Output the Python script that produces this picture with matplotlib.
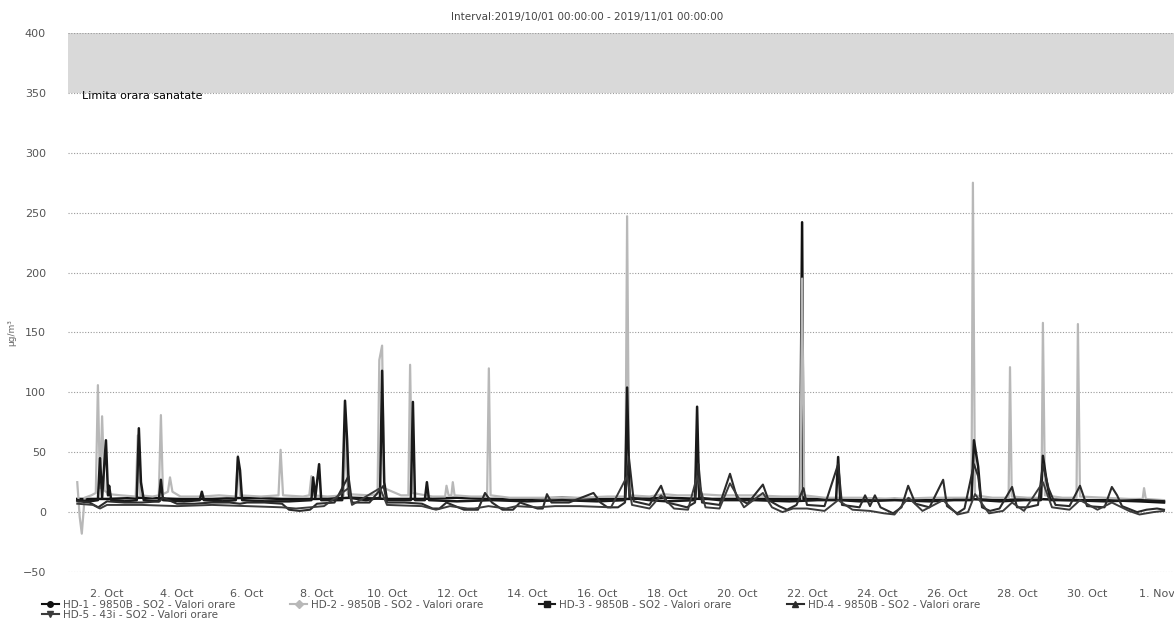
import numpy as np
import matplotlib
matplotlib.use("Agg")
import matplotlib.pyplot as plt
from matplotlib.lines import Line2D

# time axis: days since 2019/10/01 00:00, values in ug/m3
hd1_t = [0.15, 1.0, 2.0, 3.0, 4.0, 5.0, 6.0, 7.0, 8.0, 9.0, 10.0, 11.0, 12.0, 13.0,
         14.0, 15.0, 16.0, 17.0, 18.0, 19.0, 20.0, 20.8, 20.86, 20.9, 21.5, 22.5,
         23.5, 24.5, 25.5, 26.5, 27.5, 28.5, 29.5, 30.5, 31.2]
hd1_v = [11, 11, 12, 11, 11, 12, 11, 11, 12, 11, 11, 12, 11, 11,
         12, 11, 11, 12, 11, 11, 11, 11, 242, 11, 11, 10,
         11, 10, 11, 10, 11, 10, 10, 9, 8]

hd2_t = [0.15, 0.22, 0.28, 0.36, 0.55, 0.68, 0.74, 0.80, 0.86, 0.93, 1.05, 1.4, 1.82,
         1.88, 1.95, 2.3, 2.48, 2.54, 2.6, 2.74, 2.8, 2.87, 3.1, 3.7, 4.2, 4.68, 4.74,
         4.8, 5.4, 5.9, 5.96, 6.03, 6.6, 6.78, 6.84, 6.9, 7.3, 7.76, 7.82, 7.88, 8.5,
         8.73, 8.78, 8.86, 8.92, 9.4, 9.61, 9.66, 9.72, 10.3, 10.66, 10.7, 10.76,
         10.84, 10.88, 10.93, 11.4, 11.86, 11.91, 11.96, 12.5, 13.5, 14.5, 15.3,
         15.81, 15.86, 15.92, 16.5, 16.9, 17.3, 17.81, 17.86, 17.92, 18.5, 19.5, 20.3,
         20.81, 20.86, 20.92, 21.5, 22.5, 23.5, 24.5, 25.3, 25.7, 25.74, 25.8, 26.3,
         26.76, 26.8, 26.85, 27.3, 27.7, 27.74, 27.8, 28.3, 28.7, 28.74, 28.8, 29.5,
         30.2, 30.59, 30.63, 30.68, 31.2]
hd2_v = [25, -4, -18, 12, 14, 16, 106, 20, 80, 18, 15, 14, 13,
         64, 14, 13, 14, 81, 15, 17, 29, 17, 13, 13, 14, 13, 47,
         14, 13, 14, 52, 14, 13, 14, 30, 14, 13, 14, 65, 15, 14,
         15, 127, 139, 20, 14, 14, 123, 16, 13, 13, 22, 14,
         14, 25, 14, 13, 13, 120, 14, 12, 12, 12, 13,
         13, 247, 14, 13, 15, 14, 14, 66, 15, 14, 14, 13,
         13, 195, 14, 12, 12, 11, 12, 12, 12, 275, 14, 12,
         12, 121, 13, 12, 12, 158, 14, 12, 12, 157, 13, 12,
         11, 11, 20, 11, 10]

hd3_t = [0.15, 0.5, 0.74, 0.8, 0.86, 0.97, 1.03, 1.06, 1.12, 1.5, 1.85, 1.91, 1.97,
         2.05, 2.48, 2.54, 2.6, 3.2, 3.65, 3.71, 3.77, 4.3, 4.68, 4.74, 4.8, 4.86,
         5.5, 6.2, 6.84, 6.89, 6.95, 7.06, 7.12, 7.72, 7.8, 7.86, 7.92, 8.4, 8.8,
         8.86, 8.92, 9.0, 9.68, 9.74, 9.8, 10.08, 10.14, 10.2, 11.0, 12.0, 13.0,
         14.0, 15.0, 15.8, 15.86, 15.93, 16.5, 17.0, 17.8, 17.86, 17.92, 18.5, 19.5,
         20.5, 21.3, 21.83, 21.89, 21.95, 22.5, 23.5, 24.5, 25.2, 25.7, 25.77, 25.89,
         25.97, 26.5, 27.2, 27.68, 27.74, 27.85, 27.95, 28.5, 29.5, 30.5, 31.2]
hd3_v = [10, 9, 10, 45, 12, 60, 14, 22, 10, 9, 10, 70, 25,
         10, 9, 27, 10, 9, 10, 17, 10, 9, 10, 46, 35, 10,
         9, 9, 10, 29, 12, 40, 10, 10, 93, 60, 12, 10, 12,
         118, 25, 10, 10, 92, 10, 10, 25, 10, 9, 10, 9,
         10, 9, 10, 104, 12, 10, 9, 10, 88, 12, 10, 10,
         9, 10, 10, 46, 10, 9, 10, 9, 10, 10, 60, 38,
         10, 9, 10, 10, 47, 25, 10, 10, 9, 10, 9]

hd4_t = [0.15, 0.5, 0.75, 0.85, 1.0, 1.5, 2.0, 2.5, 2.6, 3.0, 3.5, 4.0, 4.5, 4.8,
         5.0, 5.5, 6.0, 6.2, 6.5, 6.8, 7.0, 7.5, 7.9, 8.0, 8.5, 8.9, 9.0, 9.5, 10.0,
         10.3, 10.5, 10.7, 11.2, 11.6, 11.8, 12.0, 12.3, 12.6, 12.8, 13.3, 13.45,
         13.57, 13.7, 14.2, 14.9, 15.1, 15.3, 15.6, 15.8, 15.91, 16.05, 16.5, 16.83,
         17.0, 17.3, 17.57, 17.8, 17.9, 18.0, 18.5, 18.8, 19.0, 19.3, 19.74, 19.9,
         20.2, 20.43, 20.7, 20.9, 21.0, 21.5, 21.89, 22.0, 22.5, 22.66, 22.8, 22.94,
         23.1, 23.46, 23.7, 23.89, 24.1, 24.5, 24.89, 25.0, 25.29, 25.5, 25.77,
         25.89, 26.0, 26.23, 26.5, 26.86, 27.0, 27.3, 27.6, 27.74, 27.9, 28.1, 28.5,
         28.8, 29.0, 29.5, 29.71, 29.86, 30.0, 30.43, 30.7, 31.0, 31.2]
hd4_v = [9, 8, 4, 6, 9, 8, 8, 9, 12, 7, 7, 8, 8, 7,
         8, 8, 7, 2, 1, 2, 7, 8, 30, 8, 8, 22, 8, 8, 7,
         3, 3, 8, 2, 2, 16, 8, 2, 2, 8, 3, 3,
         15, 8, 8, 16, 8, 4, 4, 8, 46, 9, 6, 22,
         8, 6, 4, 8, 40, 8, 6, 32, 12, 7, 23, 10,
         5, 2, 6, 20, 6, 5, 40, 6, 4, 14, 5, 14,
         4, -1, 4, 22, 7, 4, 27, 5, -1, 3, 40,
         30, 4, 1, 3, 21, 4, 4, 6, 40, 20, 6, 5,
         22, 5, 4, 21, 14, 5, 0, 2, 3, 2]

hd5_t = [0.15, 0.6, 0.8, 1.0, 2.0, 3.0, 4.0, 5.0, 6.0, 6.4, 6.8, 7.2, 7.9, 8.0,
         8.8, 9.0, 10.0, 10.4, 10.8, 11.3, 11.5, 11.9, 12.4, 12.7, 13.3, 13.8, 14.5,
         15.4, 15.86, 16.0, 16.5, 16.83, 17.2, 17.6, 17.86, 18.1, 18.5, 18.8, 19.2,
         19.74, 20.0, 20.3, 20.6, 21.0, 21.5, 21.89, 22.3, 22.8, 23.2, 23.5, 23.9,
         24.3, 24.89, 25.3, 25.6, 25.8, 26.2, 26.6, 26.86, 27.2, 27.74, 28.0, 28.5,
         28.8, 29.3, 29.71, 30.2, 30.5, 30.9, 31.2]
hd5_v = [7, 6, 3, 6, 6, 5, 6, 5, 4, 3, 4, 5, 20, 6,
         20, 6, 5, 2, 5, 3, 3, 5, 3, 5, 4, 5, 5,
         4, 30, 6, 3, 14, 3, 2, 30, 4, 3, 24, 4,
         16, 4, 0, 3, 3, 1, 10, 2, 1, -1, -2, 12,
         1, 10, -2, 0, 15, -1, 1, 8, 1, 25, 4, 2,
         10, 2, 8, 1, -2, 0, 1]

series_names = ["HD-1 - 9850B - SO2 - Valori orare",
                "HD-2 - 9850B - SO2 - Valori orare",
                "HD-3 - 9850B - SO2 - Valori orare",
                "HD-4 - 9850B - SO2 - Valori orare",
                "HD-5 - 43i - SO2 - Valori orare"]

tick_days = [1, 3, 5, 7, 9, 11, 13, 15, 17, 19, 21, 23, 25, 27, 29, 31]
tick_labels = ["2. Oct", "4. Oct", "6. Oct", "8. Oct", "10. Oct", "12. Oct", "14. Oct",
               "16. Oct", "18. Oct", "20. Oct", "22. Oct", "24. Oct", "26. Oct",
               "28. Oct", "30. Oct", "1. Nov"]
y_ticks = [-50, 0, 50, 100, 150, 200, 250, 300, 350, 400]
band_lo, band_hi = 350, 400

W, H = 1174, 630
fig = plt.figure(figsize=(W / 100, H / 100), dpi=100)
ax = fig.add_axes([68 / W, 1 - 572 / H, (1174 - 68) / W, (572 - 33) / H])

ax.axhspan(band_lo, band_hi, color="#d9d9d9", zorder=0, lw=0)
ax.text(0.3, band_lo - 3, "Limita orara sanatate", fontsize=8, color="#000000",
        va="center", ha="left", zorder=5)

for yv in y_ticks:
    ax.axhline(yv, color="#9a9a9a", lw=0.8, ls=(0, (1, 1.5)), zorder=1)

styles = [
    (hd1_t, hd1_v, "#111111", 1.8, "o"),
    (hd2_t, hd2_v, "#b8b8b8", 1.6, "D"),
    (hd3_t, hd3_v, "#1a1a1a", 1.8, "s"),
    (hd4_t, hd4_v, "#2b2b2b", 1.5, "^"),
    (hd5_t, hd5_v, "#3c3c3c", 1.4, "v"),
]
handles = []
for (t, v, c, lw, m), name in zip(styles, series_names):
    ax.plot(t, v, color=c, lw=lw, zorder=3)
    handles.append(Line2D([0], [0], color=c, lw=1.5, marker=m, markersize=4, label=name))

ax.set_xlim((68 - 72) / 35, (1174 - 72) / 35)
ax.set_ylim(-50, 400)
ax.set_xticks(tick_days)
ax.set_xticklabels(tick_labels)
ax.set_yticks(y_ticks)
ax.tick_params(axis="both", length=0, labelsize=8, labelcolor="#555555")
ax.tick_params(axis="y", pad=16)
ax.tick_params(axis="x", pad=12)
for s in ax.spines.values():
    s.set_visible(False)

fig.text(12 / W, 1 - 333 / H, "µg/m³", rotation=90, fontsize=6.5, color="#666666",
         ha="center", va="center")

fig.text(0.5, 1 - 17 / H, "Interval:2019/10/01 00:00:00 - 2019/11/01 00:00:00",
         ha="center", va="center", fontsize=7.5, color="#444444")

order = [0, 4, 1, 2, 3]
leg = fig.legend([handles[i] for i in order], [series_names[i] for i in order],
                 ncol=4, loc="upper left", bbox_to_anchor=(42 / W, 1 - 600 / H),
                 frameon=False, fontsize=7.5, handlelength=1.6, handletextpad=0.4,
                 columnspacing=5.3, labelspacing=0.0, borderaxespad=0, borderpad=0)
for txt in leg.get_texts():
    txt.set_color("#555555")

fig.savefig("out.png", dpi=100)
